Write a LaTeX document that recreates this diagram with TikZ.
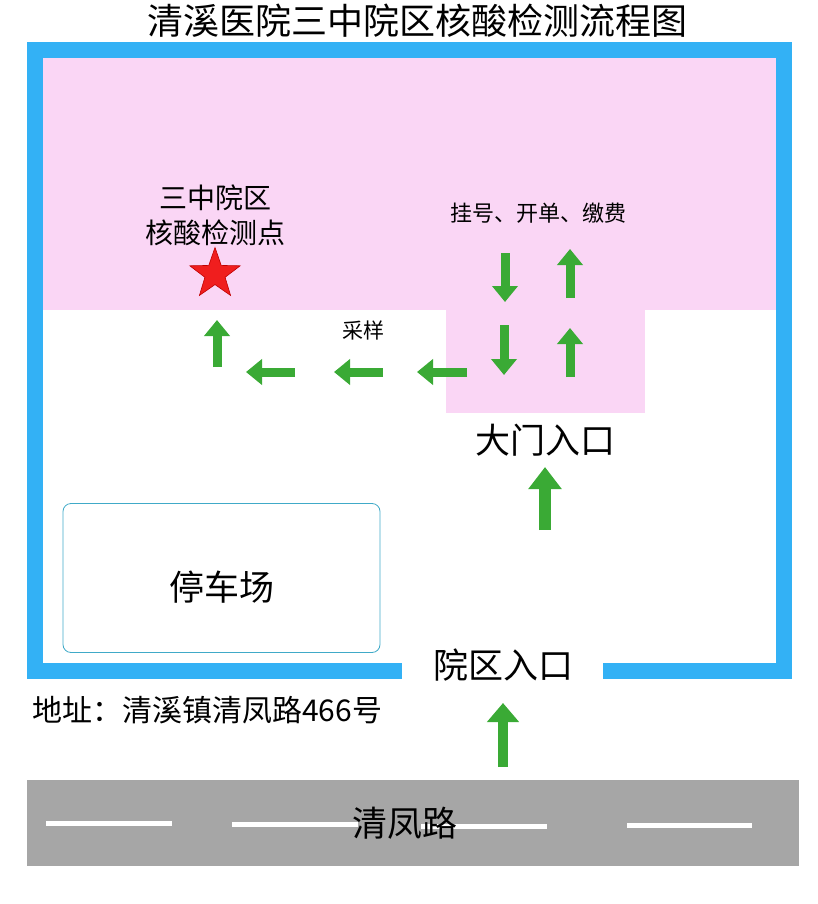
\documentclass[tikz,border=0pt]{standalone}
\usepackage{fontspec}
\setmainfont{Noto Sans CJK SC}
\usetikzlibrary{arrows.meta,shapes.geometric}
\definecolor{wallblue}{RGB}{51,177,245}
\definecolor{pinkzone}{RGB}{250,214,245}
\definecolor{arrowgreen}{RGB}{58,170,53}
\definecolor{roadgray}{RGB}{166,166,166}
\definecolor{starred}{RGB}{240,30,30}
\definecolor{parkline}{RGB}{64,170,200}
\newcommand{\fs}[1]{\fontsize{#1}{#1}\selectfont}
\begin{document}
\begin{tikzpicture}[x=1pt,y=-1pt,
  garrow/.style={draw=arrowgreen,line width=9pt,-{Triangle[width=25pt,length=16pt]}},
  bigarrow/.style={draw=arrowgreen,line width=12pt,-{Triangle[width=32pt,length=22pt]}},
  roadarrow/.style={draw=arrowgreen,line width=10pt,-{Triangle[width=31pt,length=19pt]}},
  wall/.style={fill=wallblue},
  lane/.style={draw=white,line width=5pt},
  lbl/.style={inner sep=0pt,text=black}]
\useasboundingbox (0,0) rectangle (817,904);
% pink zone
\fill[pinkzone] (43,58) rectangle (776,310);
\fill[pinkzone] (446,309) rectangle (645,413);
% walls
\fill[wall] (27,42) rectangle (792,58);
\fill[wall] (27,42) rectangle (43,679);
\fill[wall] (776,42) rectangle (792,679);
\fill[wall] (27,663) rectangle (402,679);
\fill[wall] (603,663) rectangle (792,679);
% road
\fill[roadgray] (27,780) rectangle (799,866);
\draw[lane] (46,823) -- (172,823);
\draw[lane] (232,824) -- (358,824);
\draw[lane] (421,826) -- (547,826);
\draw[lane] (627,825) -- (752,825);
% texts
\node[lbl,font=\fs{36}] (title) at (417,21) {清溪医院三中院区核酸检测流程图};
\node[lbl,align=center,font=\fontsize{28}{35}\selectfont] (point) at (215,215) {三中院区\\核酸检测点};
\node[star,star points=5,star point ratio=2.5,fill=starred,draw=red!75!black,line width=0.6pt,minimum size=53pt,inner sep=0pt] (star) at (215,274) {};
\node[lbl,font=\fs{22}] (reg) at (538,213) {挂号、开单、缴费};
\node[lbl,font=\fs{21}] (sample) at (363,330) {采样};
\node[lbl,font=\fs{35}] (gate) at (545,440) {大门入口};
\node[lbl,font=\fs{35}] (entry) at (503,665) {院区入口};
\node[draw=parkline,line width=0.8pt,rounded corners=8pt,minimum width=317pt,minimum height=149pt] (park) at (221.5,578) {};
\node[lbl,font=\fs{35}] (parktext) at (222,587) {停车场};
\node[lbl,anchor=west,font=\fs{30}] (addr) at (32,710) {地址：清溪镇清凤路466号};
\node[lbl,font=\fs{35}] (road) at (405,823) {清凤路};
% arrow coordinates
\coordinate (d1a) at (505,253); \coordinate (d1b) at (505,302);
\coordinate (u1a) at (570,298); \coordinate (u1b) at (570,249);
\coordinate (d2a) at (504,325); \coordinate (d2b) at (504,375);
\coordinate (u2a) at (570,377); \coordinate (u2b) at (570,328);
\coordinate (l1a) at (467,372); \coordinate (l1b) at (417,372);
\coordinate (l2a) at (383,372); \coordinate (l2b) at (334,372);
\coordinate (l3a) at (295,372); \coordinate (l3b) at (246,372);
\coordinate (u3a) at (217,367); \coordinate (u3b) at (217,320);
\coordinate (ga) at (545,530); \coordinate (gb) at (545,467);
\coordinate (ra) at (503,767); \coordinate (rb) at (503,703);
\draw[garrow] (d1a) -- (d1b);
\draw[garrow] (u1a) -- (u1b);
\draw[garrow] (d2a) -- (d2b);
\draw[garrow] (u2a) -- (u2b);
\draw[garrow] (l1a) -- (l1b);
\draw[garrow] (l2a) -- (l2b);
\draw[garrow] (l3a) -- (l3b);
\draw[garrow] (u3a) -- (u3b);
\draw[bigarrow] (ga) -- (gb);
\draw[roadarrow] (ra) -- (rb);
\end{tikzpicture}
\end{document}
